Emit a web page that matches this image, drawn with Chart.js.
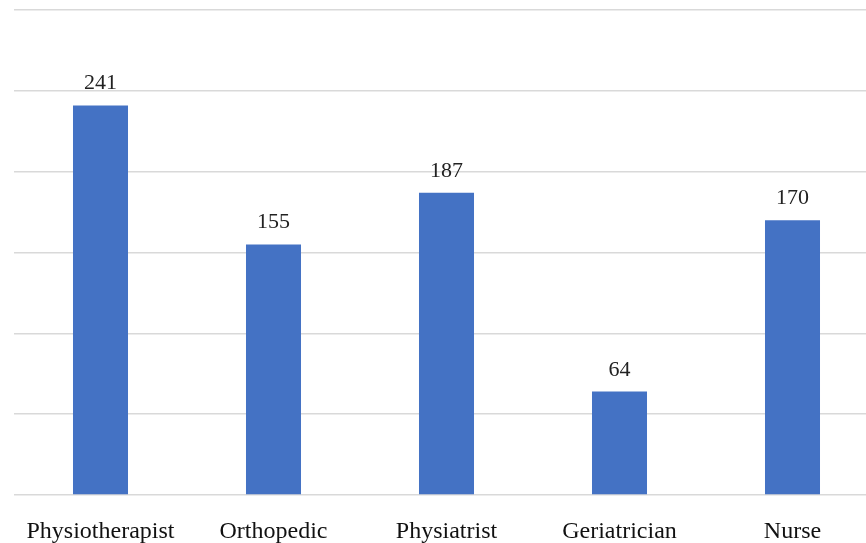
<!DOCTYPE html>
<html lang="en">
<head>
    <meta charset="UTF-8">
    <title>Professionals</title>
    <script src="https://cdn.jsdelivr.net/npm/chart.js"></script>
    <style>
        html, body { margin: 0; padding: 0; background: #fff; overflow: hidden; }
        #wrap { width: 880px; height: 543px; }
    </style>
</head>
<body>
    <div id="wrap">
        <canvas id="chart1" width="880" height="543"></canvas>
    </div>
    <script>
        const categories = ["Physiotherapist", "Orthopedic", "Physiatrist", "Geriatrician", "Nurse"];
        const counts = [241, 155, 187, 64, 170];

        // draw the number above each bar
        const valueLabels = {
            id: "valueLabels",
            afterDatasetsDraw(chart) {
                const ctx = chart.ctx;
                const meta = chart.getDatasetMeta(0);
                ctx.save();
                ctx.font = "22px 'Liberation Serif', serif";
                ctx.fillStyle = "#222";
                ctx.textAlign = "center";
                ctx.textBaseline = "alphabetic";
                meta.data.forEach((bar, i) => {
                    ctx.fillText(counts[i], bar.x, bar.y - 16);
                });
                ctx.restore();
            }
        };

        new Chart(document.getElementById("chart1"), {
            type: "bar",
            data: {
                labels: categories,
                datasets: [{
                    data: counts,
                    backgroundColor: "#4472c4",
                    categoryPercentage: 1,
                    barPercentage: 0.318
                }]
            },
            options: {
                responsive: false,
                animation: false,
                layout: { padding: { top: 10, left: 14, right: 1, bottom: 0 } },
                plugins: { legend: { display: false }, tooltip: { enabled: false } },
                scales: {
                    x: {
                        grid: { display: false, drawTicks: false },
                        border: { display: false },
                        afterFit(scale) { scale.height = 48; },
                        ticks: {
                            padding: 22,
                            color: "#111",
                            font: { family: "'Liberation Serif', serif", size: 24 }
                        }
                    },
                    y: {
                        min: 0,
                        max: 300,
                        ticks: { display: false, stepSize: 50 },
                        grid: { color: "#d9d9d9", lineWidth: 1.5, drawTicks: false },
                        border: { display: false }
                    }
                }
            },
            plugins: [valueLabels]
        });
    </script>
</body>
</html>
